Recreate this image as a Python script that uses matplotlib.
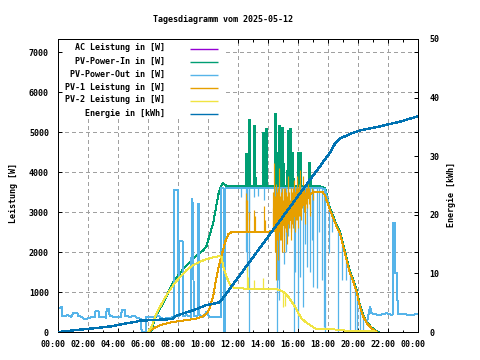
import matplotlib
matplotlib.use("Agg")
import matplotlib.pyplot as plt
from matplotlib.patches import Rectangle
from matplotlib.transforms import ScaledTranslation
import numpy as np

TITLE = "Tagesdiagramm vom 2025-05-12"
X_TICKS = list(range(0, 25, 2))
X_LABELS = ["00:00", "02:00", "04:00", "06:00", "08:00", "10:00", "12:00",
            "14:00", "16:00", "18:00", "20:00", "22:00", "00:00"]
W_TICKS = list(range(0, 7001, 1000))
E_TICKS = list(range(0, 51, 10))
LABELS = ["AC Leistung in [W]", "PV-Power-In in [W]", "PV-Power-Out in [W]",
          "PV-1 Leistung in [W]", "PV-2 Leistung in [W]", "Energie in [kWh]"]
COLORS = ["#9400d3", "#009e73", "#56b4e9", "#e69f00", "#f0e442", "#0072b2"]

# ---- PV-Power-Out (also AC) : (hour, W)
PV_OUT = [(0.0, 600), (0.25, 620), (0.3, 400), (0.55, 400), (0.6, 430), (0.9, 380),
          (1.0, 470), (1.3, 470), (1.35, 400), (1.6, 380), (1.7, 330), (2.1, 340),
          (2.2, 380), (2.45, 380), (2.5, 520), (2.7, 520), (2.75, 380), (3.2, 360),
          (3.25, 570), (3.4, 570), (3.45, 390), (4.2, 380), (4.25, 540), (4.45, 540),
          (4.5, 400), (4.8, 380), (5.1, 400), (5.3, 350), (5.55, 330), (5.57, 0),
          (5.88, 0), (5.9, 380), (6.5, 380), (6.6, 420), (7.0, 330), (7.5, 350),
          (7.74, 380), (7.76, 3550), (8.02, 3550), (8.04, 400), (8.09, 400),
          (8.1, 2280), (8.3, 2280), (8.32, 400), (8.6, 420), (8.89, 380),
          (8.91, 3320), (8.96, 3320), (8.98, 3100), (9.02, 3100), (9.04, 400),
          (9.3, 400), (9.33, 3200), (9.39, 3200), (9.41, 420), (9.7, 380),
          (9.9, 500), (10.1, 380), (10.85, 380), (10.87, 3590), (11.05, 3590),
          (11.07, 0), (11.14, 0), (11.16, 3590), (17.6, 3590), (17.8, 3570),
          (17.9, 3420), (18.13, 3050), (18.36, 2840), (18.58, 2630), (18.8, 2470),
          (19.02, 2130), (19.24, 1800), (19.47, 1470), (19.69, 1260), (19.91, 1010),
          (20.13, 630), (20.36, 380), (20.58, 220), (20.8, 630), (20.9, 470),
          (21.4, 420), (21.9, 470), (22.3, 420), (22.36, 2720), (22.45, 2720),
          (22.5, 1470), (22.6, 1470), (22.65, 440), (23.0, 450), (23.5, 420),
          (24.0, 450)]
# dips of PV-Power-Out: (hour, low W, high W)
PV_OUT_DIPS = [(12.2, 3380, 3590), (12.55, 2000, 3590), (12.62, 1500, 3590),
               (12.7, 0, 3590), (12.75, 2800, 3590), (13.07, 3380, 3590),
               (13.3, 3400, 3590), (13.75, 3300, 3590), (14.45, 2600, 3590),
               (14.58, 0, 3590), (14.65, 1300, 3590),
               (14.76, 800, 3590), (14.84, 2380, 3590), (14.91, 2900, 3590),
               (15.05, 1700, 3590), (15.2, 2000, 3590), (15.35, 2400, 3590),
               (15.5, 2600, 3590), (15.73, 0, 3590),
               (15.8, 1500, 3590), (16.0, 100, 3590), (16.13, 1380, 3590),
               (16.31, 630, 3590), (16.45, 2200, 3590), (16.58, 1630, 3590),
               (16.8, 1500, 3590), (16.92, 2300, 3590),
               (17.02, 1130, 3590), (17.24, 1100, 3590), (17.4, 2500, 3590),
               (17.58, 1300, 3590),
               (17.73, 130, 3580), (17.8, 0, 3570), (18.07, 1970, 3100),
               (18.24, 2500, 2950), (18.67, 0, 2560), (18.95, 1300, 2200),
               (19.2, 1300, 1850), (19.47, 0, 1470), (19.8, 0, 1130),
               (19.95, 0, 950), (20.1, 0, 700), (20.3, 0, 450)]

# ---- PV-Power-In : (hour, W)
PV_IN = [(6.1, 0), (6.25, 60), (6.47, 350), (7.0, 720), (7.7, 1260), (8.36, 1580),
         (9.0, 1830), (9.7, 2050), (9.9, 2150), (10.13, 2450), (10.36, 2750),
         (10.55, 3150), (10.7, 3450), (10.84, 3620), (11.0, 3720), (11.2, 3660),
         (12.0, 3650), (14.0, 3650), (16.0, 3640), (17.5, 3640), (17.8, 3600),
         (17.9, 3450), (18.13, 3100), (18.36, 2880), (18.58, 2670), (18.8, 2510),
         (19.02, 2170), (19.24, 1840), (19.47, 1510), (19.69, 1300), (19.91, 1050),
         (20.13, 670), (20.36, 420), (20.58, 250), (20.91, 110), (21.24, 20),
         (21.4, 0)]
PV_IN_PEAKS = [(12.51, 3650, 4300), (12.56, 3650, 4470), (12.62, 3650, 4470),
               (12.73, 3650, 5330),
               (13.07, 3650, 5175), (13.13, 3650, 3880), (13.69, 3650, 5010),
               (13.74, 3650, 5010),
               (13.8, 3650, 4900), (13.87, 3650, 5090), (14.47, 3650, 5470),
               (14.58, 3650, 4510), (14.76, 3650, 5175), (14.84, 3650, 4260),
               (14.91, 3650, 5130), (15.02, 3650, 4220), (15.24, 3650, 4050),
               (15.36, 3650, 5050), (15.47, 3650, 5090), (15.58, 3650, 4500),
               (15.69, 3650, 3840), (16.02, 3650, 4510), (16.13, 3650, 4500),
               (16.73, 3650, 4260), (16.8, 3650, 3880)]

# ---- PV-1 : (hour, W)
PV1 = [(6.0, 0), (6.2, 50), (6.4, 100), (6.8, 170), (7.5, 240), (8.4, 290),
       (9.3, 340), (9.7, 400), (9.95, 480), (10.13, 620), (10.36, 920),
       (10.55, 1340), (10.7, 1620), (10.9, 1900), (11.13, 2240), (11.36, 2450),
       (11.6, 2500), (13.9, 2490), (14.2, 2520), (14.58, 2550), (15.0, 2680),
       (15.5, 2820), (16.0, 3010), (16.3, 3175), (16.6, 3340), (16.9, 3470),
       (17.2, 3510), (17.6, 3510), (17.8, 3430), (17.9, 3300), (18.13, 3050),
       (18.36, 2840), (18.58, 2630), (18.8, 2470), (19.02, 2130), (19.24, 1800),
       (19.47, 1470), (19.69, 1260), (19.91, 1010), (20.13, 630), (20.36, 380),
       (20.58, 220), (20.91, 90), (21.24, 0)]
PV1_SPIKES = [(12.52, 2490, 3470), (12.56, 2490, 3300), (12.6, 2490, 3300),
              (12.7, 2490, 3000),
              (13.07, 2490, 3050), (13.12, 2490, 2900), (13.72, 2490, 3150),
              (13.8, 2490, 2800), (14.3, 2520, 3100), (14.35, 2520, 3500),
              (14.42, 2520, 4220), (14.46, 2000, 3400),
              (14.5, 1300, 3700), (14.55, 2400, 3000), (14.6, 2550, 3300),
              (14.63, 2300, 3500), (14.67, 1800, 3600), (14.71, 2500, 3300),
              (14.76, 2580, 4090), (14.8, 2300, 3400), (14.83, 2600, 3200),
              (14.87, 2300, 3500), (14.9, 2000, 3600), (14.95, 2600, 3400),
              (15.0, 2680, 3300), (15.04, 2400, 3600), (15.07, 2000, 3500),
              (15.11, 2600, 3300), (15.15, 2700, 3600), (15.2, 2500, 3500),
              (15.25, 2200, 3400), (15.3, 2700, 3600),
              (15.36, 2780, 3900), (15.4, 2600, 3500), (15.45, 2800, 3300),
              (15.5, 2500, 3600), (15.55, 2300, 3600), (15.6, 2700, 3500),
              (15.65, 2850, 3450), (15.69, 2600, 3600), (15.73, 2900, 3800),
              (15.78, 2700, 3500), (15.82, 2500, 3500), (15.86, 2800, 3600),
              (15.9, 2950, 3900), (15.95, 2800, 3500), (16.0, 2600, 3600),
              (16.05, 2900, 3700), (16.1, 3050, 4050), (16.15, 2900, 3500),
              (16.2, 2800, 3500), (16.25, 3100, 3600), (16.3, 3175, 3600),
              (16.36, 3200, 3900), (16.4, 3000, 3600), (16.45, 2700, 3500),
              (16.5, 3200, 3600), (16.55, 3300, 3600), (16.62, 3100, 3600),
              (16.69, 3350, 3700), (16.75, 3200, 3600), (16.8, 2900, 3500),
              (16.9, 3470, 3600), (17.0, 3300, 3550)]

# ---- PV-2 : (hour, W)
PV2 = [(6.0, 0), (6.24, 130), (6.47, 380), (6.8, 630), (7.24, 925), (7.69, 1175),
       (8.13, 1380), (8.58, 1550), (9.02, 1675), (9.47, 1760), (9.91, 1820),
       (10.36, 1870), (10.8, 1900), (10.91, 1870), (11.02, 1630), (11.24, 1380),
       (11.47, 1175), (11.69, 1110), (12.0, 1090), (13.5, 1080), (14.58, 1070),
       (14.9, 1030), (15.13, 970), (15.36, 880), (15.58, 760), (15.8, 630),
       (16.02, 470), (16.24, 340), (16.47, 260), (16.8, 175), (17.13, 90),
       (17.47, 70), (18.8, 60), (19.2, 30), (21.0, 30), (21.2, 0)]
PV2_SPIKES = [(12.58, 1085, 1720), (12.69, 1085, 1380), (13.07, 1080, 1300),
              (13.69, 1080, 1350), (15.02, 630, 1000), (15.1, 650, 970)]

# ---- Energie : (hour, kWh)
ENERGY = [(0.0, 0.0), (0.53, 0.12), (1.2, 0.34), (2.09, 0.56), (2.98, 0.8),
          (3.64, 1.0), (4.3, 1.36), (5.2, 1.75), (5.5, 1.95), (6.0, 2.0),
          (7.6, 2.2), (7.9, 2.8), (9.0, 3.7), (9.9, 4.6), (10.5, 4.9), (10.8, 5.1),
          (18.13, 30.6), (18.5, 32.3), (18.8, 33.0), (19.47, 33.8), (20.13, 34.4),
          (21.47, 35.1), (22.13, 35.5), (22.8, 35.9), (24.0, 36.8)]

FONT = "DejaVu Sans Mono"
FS = 6.0
FW = "bold"
W, H = 480, 360
plt.rcParams["font.family"] = [FONT]
plt.rcParams["font.weight"] = FW

fig = plt.figure(figsize=(W / 100, H / 100), dpi=100)
fig.patch.set_facecolor("white")
L, R, T, B = 58, 418, 39, 332
ax = fig.add_axes([L / W, 1 - B / H, (R - L) / W, (B - T) / H])
ax2 = ax.twinx()
ax.set_xlim(0, 24)
ax.set_ylim(0, 7325)
ax2.set_ylim(0, 50)

LW = 0.72
grid_kw = dict(color="#a0a0a0", lw=LW, ls=(0, (3, 3)), antialiased=False, zorder=1)
for xv in X_TICKS[1:-1]:
    ax.axvline(xv, **grid_kw)
for yv in W_TICKS[1:]:
    ax.axhline(yv, **grid_kw)


def unzip(p):
    t, v = zip(*p)
    return np.array(t), np.array(v)


def spikes(a, s, c, z, lw, aa):
    t, lo, hi = zip(*s)
    a.vlines(t, lo, hi, colors=c, lw=lw, zorder=z, antialiased=aa)


series = [(PV_OUT, None, 0, False), (PV_IN, PV_IN_PEAKS, 1.0, False),
          (PV_OUT, PV_OUT_DIPS, 0.9, True), (PV1, PV1_SPIKES, 0.85, True),
          (PV2, PV2_SPIKES, 0.9, True)]
for i, (pts, sp, slw, aa) in enumerate(series):
    t, v = unzip(pts)
    ax.plot(t, v, color=COLORS[i], lw=LW, zorder=2 + i, antialiased=False)
    if sp:
        spikes(ax, sp, COLORS[i], 2 + i, slw, aa)

t, v = unzip(ENERGY)
ax2.plot(t, v, color=COLORS[5], lw=1.0, zorder=3, antialiased=False)

# ticks
ax.set_xticks(X_TICKS)
ax.set_xticklabels(X_LABELS)
ax.set_xticks(np.arange(1, 24, 2), minor=True)
ax.set_yticks(W_TICKS)
ax.tick_params(axis="x", which="major", direction="in", length=3.2, width=LW,
               pad=6.0, labelsize=FS, top=True)
ax.tick_params(axis="x", which="minor", direction="in", length=1.8, width=LW, top=True)
ax.tick_params(axis="y", direction="in", length=3.2, width=LW, pad=6.5,
               labelsize=FS, right=True)
ax2.set_yticks(E_TICKS)
ax2.tick_params(axis="y", direction="in", length=3.2, width=LW, pad=8.0, labelsize=FS)
for lab in ax.get_xticklabels():
    lab.set_transform(lab.get_transform() + ScaledTranslation(-5 / 100, 0, fig.dpi_scale_trans))
for a in (ax, ax2):
    for s in a.spines.values():
        s.set_linewidth(LW)
        s.set_antialiased(False)

ax.set_zorder(1)
ax.patch.set_visible(False)
ax2.set_zorder(2)

# legend (opaque key box)
ax2.add_patch(Rectangle((64 / W, 1 - 118 / H), (225 - 64) / W, (118 - 40) / H,
                        transform=fig.transFigure, facecolor="white", edgecolor="none",
                        zorder=10))
rows = [47, 60, 73, 86, 99, 112]
for i, lab in enumerate(LABELS):
    y = rows[i]
    ax2.text(165 / W, 1 - (y + 3.5) / H, lab, ha="right", va="baseline",
             fontsize=FS, zorder=12, transform=fig.transFigure)
    ax2.plot([190 / W, 218 / W], [1 - (y + 2) / H] * 2, transform=fig.transFigure,
             color=COLORS[i], lw=1.0, zorder=12, clip_on=False, solid_capstyle="butt")

fig.text(223 / W, 1 - 21.5 / H, TITLE, ha="center", va="baseline", fontsize=FS)
fig.text(13 / W, 1 - 193 / H, "Leistung [W]", rotation=90, ha="center", va="center",
         fontsize=FS)
fig.text(452 / W, 1 - 194.5 / H, "Energie [kWh]", rotation=90, ha="center", va="center",
         fontsize=FS)

fig.savefig("out.png", dpi=100, facecolor="white")
